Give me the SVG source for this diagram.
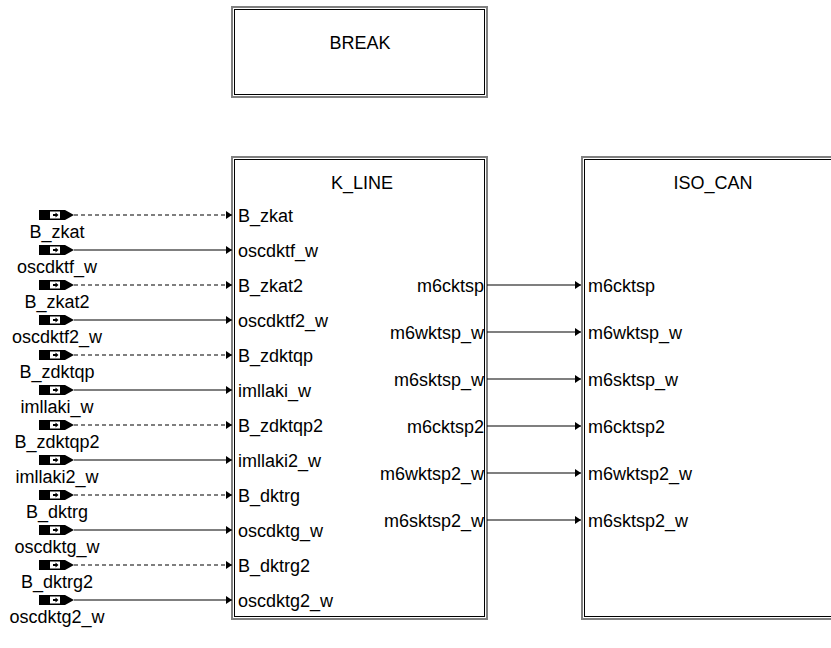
<svg xmlns="http://www.w3.org/2000/svg" xmlns:xlink="http://www.w3.org/1999/xlink" width="831" height="648" viewBox="0 0 831 648">
<style>
text{font-family:"Liberation Sans",Arial,sans-serif;font-size:18px;fill:#000}
.t{text-anchor:middle}
.r{text-anchor:end}
.c{text-anchor:middle}
.ln{stroke:#000;stroke-width:1.2;fill:none}
.d{stroke-dasharray:4,3}
.fo{fill:#fff;stroke:#808080;stroke-width:2}
.fi{fill:none;stroke:#000;stroke-width:1}
</style>
<defs>
<marker id="ah" markerWidth="6" markerHeight="8" refX="6" refY="4" orient="auto" markerUnits="userSpaceOnUse">
<path d="M0,0 L6,4 L0,8 Z" fill="#000"/>
</marker>
<g id="inp">
<rect x="39" y="-5" width="26" height="10" fill="#000"/>
<rect x="50" y="-3.5" width="10" height="7" fill="#fff"/>
<path d="M53,-1 L55.5,-1 L55.5,-2.5 L58.5,0 L55.5,2.5 L55.5,1 L53,1 Z" fill="#000"/>
<path d="M65,-5 L74,0 L65,5 Z" fill="#000"/>
</g>
</defs>

<g id="BREAK">
<rect class="fo" x="232" y="7" width="255" height="90"/>
<rect class="fi" x="234.5" y="9.5" width="250" height="85"/>
<text class="t" x="360" y="49">BREAK</text>
</g>

<g id="K_LINE">
<rect class="fo" x="232" y="157" width="255" height="462"/>
<rect class="fi" x="234.5" y="159.5" width="250" height="457"/>
<text class="t" x="362" y="189">K_LINE</text>
<text x="238" y="221.5">B_zkat</text>
<text x="238" y="256.5">oscdktf_w</text>
<text x="238" y="291.5">B_zkat2</text>
<text x="238" y="326.5">oscdktf2_w</text>
<text x="238" y="361.5">B_zdktqp</text>
<text x="238" y="396.5">imllaki_w</text>
<text x="238" y="431.5">B_zdktqp2</text>
<text x="238" y="466.5">imllaki2_w</text>
<text x="238" y="501.5">B_dktrg</text>
<text x="238" y="536.5">oscdktg_w</text>
<text x="238" y="571.5">B_dktrg2</text>
<text x="238" y="606.5">oscdktg2_w</text>
<text class="r" x="484" y="291.5">m6cktsp</text>
<text class="r" x="484" y="338.5">m6wktsp_w</text>
<text class="r" x="484" y="385.5">m6sktsp_w</text>
<text class="r" x="484" y="432.5">m6cktsp2</text>
<text class="r" x="484" y="479.5">m6wktsp2_w</text>
<text class="r" x="484" y="526.5">m6sktsp2_w</text>
</g>

<g id="ISO_CAN">
<rect class="fo" x="582" y="157" width="270" height="462"/>
<rect class="fi" x="584.5" y="159.5" width="270" height="457"/>
<text class="t" x="713" y="189">ISO_CAN</text>
<text x="588" y="291.5">m6cktsp</text>
<text x="588" y="338.5">m6wktsp_w</text>
<text x="588" y="385.5">m6sktsp_w</text>
<text x="588" y="432.5">m6cktsp2</text>
<text x="588" y="479.5">m6wktsp2_w</text>
<text x="588" y="526.5">m6sktsp2_w</text>
</g>

<g id="inputs">
<use xlink:href="#inp" href="#inp" y="215"/><text class="c" x="57" y="238">B_zkat</text>
<use xlink:href="#inp" href="#inp" y="250"/><text class="c" x="57" y="273">oscdktf_w</text>
<use xlink:href="#inp" href="#inp" y="285"/><text class="c" x="57" y="308">B_zkat2</text>
<use xlink:href="#inp" href="#inp" y="320"/><text class="c" x="57" y="343">oscdktf2_w</text>
<use xlink:href="#inp" href="#inp" y="355"/><text class="c" x="57" y="378">B_zdktqp</text>
<use xlink:href="#inp" href="#inp" y="390"/><text class="c" x="57" y="413">imllaki_w</text>
<use xlink:href="#inp" href="#inp" y="425"/><text class="c" x="57" y="448">B_zdktqp2</text>
<use xlink:href="#inp" href="#inp" y="460"/><text class="c" x="57" y="483">imllaki2_w</text>
<use xlink:href="#inp" href="#inp" y="495"/><text class="c" x="57" y="518">B_dktrg</text>
<use xlink:href="#inp" href="#inp" y="530"/><text class="c" x="57" y="553">oscdktg_w</text>
<use xlink:href="#inp" href="#inp" y="565"/><text class="c" x="57" y="588">B_dktrg2</text>
<use xlink:href="#inp" href="#inp" y="600"/><text class="c" x="57" y="623">oscdktg2_w</text>
</g>

<g id="connectors">
<path class="ln d" d="M74,215 H232" marker-end="url(#ah)"/>
<path class="ln" d="M74,250 H232" marker-end="url(#ah)"/>
<path class="ln d" d="M74,285 H232" marker-end="url(#ah)"/>
<path class="ln" d="M74,320 H232" marker-end="url(#ah)"/>
<path class="ln d" d="M74,355 H232" marker-end="url(#ah)"/>
<path class="ln" d="M74,390 H232" marker-end="url(#ah)"/>
<path class="ln d" d="M74,425 H232" marker-end="url(#ah)"/>
<path class="ln" d="M74,460 H232" marker-end="url(#ah)"/>
<path class="ln d" d="M74,495 H232" marker-end="url(#ah)"/>
<path class="ln" d="M74,530 H232" marker-end="url(#ah)"/>
<path class="ln d" d="M74,565 H232" marker-end="url(#ah)"/>
<path class="ln" d="M74,600 H232" marker-end="url(#ah)"/>
<path class="ln" d="M487,285 H581" marker-end="url(#ah)"/>
<path class="ln" d="M487,332 H581" marker-end="url(#ah)"/>
<path class="ln" d="M487,379 H581" marker-end="url(#ah)"/>
<path class="ln" d="M487,426 H581" marker-end="url(#ah)"/>
<path class="ln" d="M487,473 H581" marker-end="url(#ah)"/>
<path class="ln" d="M487,520 H581" marker-end="url(#ah)"/>
</g>
</svg>
